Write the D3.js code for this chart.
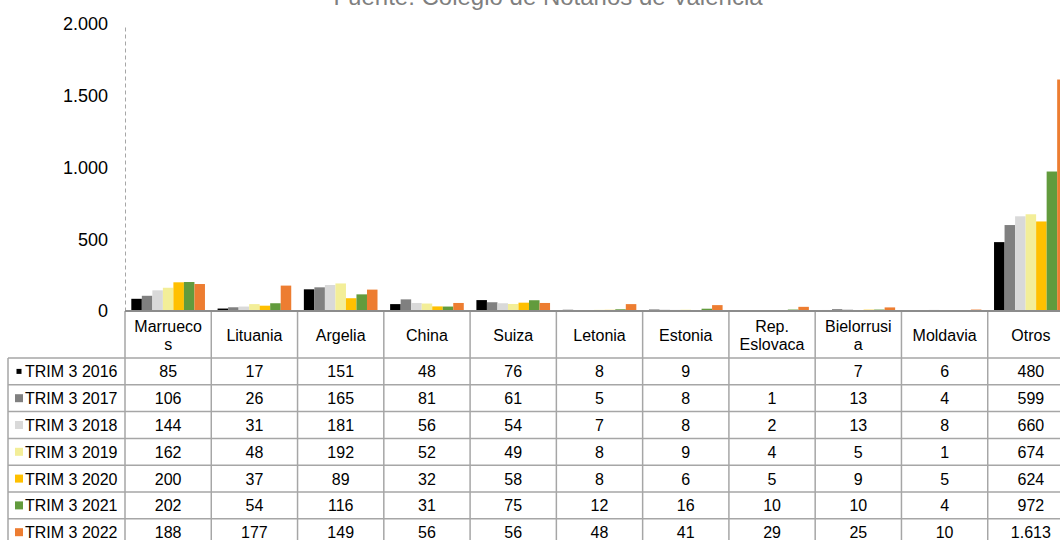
<!DOCTYPE html>
<html lang="es">
<head>
<meta charset="utf-8">
<title>Compradores extranjeros - TRIM 3</title>
<script src="https://d3js.org/d3.v7.min.js"></script>
<style>
  body { margin: 0; background: #fff; }
  svg { display: block; font-family: "Liberation Sans", Arial, sans-serif; }
</style>
</head>
<body>
<script>
// categories and series
const categories = ["Marruecos", "Lituania", "Argelia", "China", "Suiza", "Letonia", "Estonia", "Rep. Eslovaca", "Bielorrusia", "Moldavia", "Otros"];
const headerLines = [["Marrueco", "s"], ["Lituania"], ["Argelia"], ["China"], ["Suiza"], ["Letonia"], ["Estonia"], ["Rep.", "Eslovaca"], ["Bielorrusi", "a"], ["Moldavia"], ["Otros"]];
const seriesNames = ["TRIM 3 2016", "TRIM 3 2017", "TRIM 3 2018", "TRIM 3 2019", "TRIM 3 2020", "TRIM 3 2021", "TRIM 3 2022"];
const colors = ["#000000", "#808080", "#d9d9d9", "#f3ee98", "#ffc000", "#629b3d", "#ed7d31"];

const trim2016 = [85, 17, 151, 48, 76, 8, 9, null, 7, 6, 480];
const trim2017 = [106, 26, 165, 81, 61, 5, 8, 1, 13, 4, 599];
const trim2018 = [144, 31, 181, 56, 54, 7, 8, 2, 13, 8, 660];
const trim2019 = [162, 48, 192, 52, 49, 8, 9, 4, 5, 1, 674];
const trim2020 = [200, 37, 89, 32, 58, 8, 6, 5, 9, 5, 624];
const trim2021 = [202, 54, 116, 31, 75, 12, 16, 10, 10, 4, 972];
const trim2022 = [188, 177, 149, 56, 56, 48, 41, 29, 25, 10, 1613];
const seriesValues = [trim2016, trim2017, trim2018, trim2019, trim2020, trim2021, trim2022];

const yTicks = [0, 500, 1000, 1500, 2000];
const title = "Fuente: Colegio de Notarios de Valencia";

const width = 1060, height = 540;
const plotLeft = 125, plotRight = 1074, plotTop = 24, plotBottom = 311;
const headerBottom = 358, rowH = 26.8;
const legendLeft = 8;

const esLocale = d3.formatLocale({decimal: ",", thousands: ".", grouping: [3], currency: ["", " €"]});
const fmt = esLocale.format(",d");

const svg = d3.select("body").append("svg")
    .attr("width", width)
    .attr("height", height);

// title (cut off at top like the original)
svg.append("text")
    .attr("x", 548)
    .attr("y", 5)
    .attr("text-anchor", "middle")
    .attr("font-size", 24)
    .attr("fill", "#7f7f7f")
    .text(title);

const x = d3.scaleBand()
    .domain(categories)
    .range([plotLeft, plotRight])
    .padding(0);

const xs = d3.scaleBand()
    .domain(seriesNames)
    .range([0, x.bandwidth()])
    .paddingInner(0)
    .paddingOuter(0.6);

const y = d3.scaleLinear()
    .domain([0, 2000])
    .range([plotBottom, plotTop]);

// y axis
const yAxis = svg.append("g")
    .attr("transform", "translate(" + plotLeft + ",0)")
    .call(d3.axisLeft(y).tickValues(yTicks).tickSize(0).tickPadding(17).tickFormat(fmt));
yAxis.select(".domain")
    .attr("stroke", "#a6a6a6")
    .attr("stroke-dasharray", "4,3");
yAxis.selectAll("text")
    .attr("font-size", 18)
    .attr("fill", "#000")
    .attr("font-family", "Liberation Sans, Arial, sans-serif");

// bars
seriesValues.forEach((vals, si) => {
    svg.append("g")
        .selectAll("rect")
        .data(vals.map((v, i) => ({cat: categories[i], v: v})).filter(d => d.v != null))
        .enter()
        .append("rect")
        .attr("x", d => x(d.cat) + xs(seriesNames[si]))
        .attr("y", d => y(d.v))
        .attr("width", xs.bandwidth())
        .attr("height", d => plotBottom - y(d.v))
        .attr("fill", colors[si]);
});

// table
const lineColor = "#a6a6a6";
const tableBottom = headerBottom + rowH * seriesNames.length;
const grid = svg.append("g").attr("stroke", lineColor).attr("stroke-width", 1.5);

// verticals at category boundaries
categories.concat(["__end"]).forEach(c => {
    const xx = c === "__end" ? plotRight : x(c);
    grid.append("line")
        .attr("x1", xx).attr("x2", xx)
        .attr("y1", plotBottom).attr("y2", tableBottom);
});
// legend column left edge
grid.append("line")
    .attr("x1", legendLeft).attr("x2", legendLeft)
    .attr("y1", headerBottom).attr("y2", tableBottom);
// horizontals
d3.range(seriesNames.length + 1).forEach(r => {
    const yy = headerBottom + r * rowH;
    grid.append("line")
        .attr("x1", legendLeft).attr("x2", plotRight)
        .attr("y1", yy).attr("y2", yy);
});

// axis baseline
svg.append("line")
    .attr("x1", plotLeft).attr("x2", plotRight)
    .attr("y1", plotBottom).attr("y2", plotBottom)
    .attr("stroke", "#8c8c8c")
    .attr("stroke-width", 2);

// header labels
const headerMid = (plotBottom + headerBottom) / 2;
categories.forEach((c, i) => {
    const lines = headerLines[i];
    const cx = x(c) + x.bandwidth() / 2;
    const t = svg.append("text")
        .attr("text-anchor", "middle")
        .attr("font-size", 16)
        .attr("fill", "#000");
    lines.forEach((ln, li) => {
        t.append("tspan")
            .attr("x", cx)
            .attr("y", headerMid + 6 + (li - (lines.length - 1) / 2) * 18)
            .text(ln);
    });
});

// rows
seriesNames.forEach((s, si) => {
    const ry = headerBottom + si * rowH;
    const mid = ry + rowH / 2;
    const sz = si === 0 ? 5 : 8;
    svg.append("rect")
        .attr("x", 19 - sz / 2)
        .attr("y", mid - sz / 2)
        .attr("width", sz)
        .attr("height", sz)
        .attr("fill", colors[si]);
    svg.append("text")
        .attr("x", 25)
        .attr("y", mid + 6)
        .attr("font-size", 16)
        .attr("fill", "#000")
        .text(s);
    seriesValues[si].forEach((v, ci) => {
        if (v == null) return;
        svg.append("text")
            .attr("x", x(categories[ci]) + x.bandwidth() / 2)
            .attr("y", mid + 6)
            .attr("text-anchor", "middle")
            .attr("font-size", 16)
            .attr("fill", "#000")
            .text(fmt(v));
    });
});
</script>
</body>
</html>
